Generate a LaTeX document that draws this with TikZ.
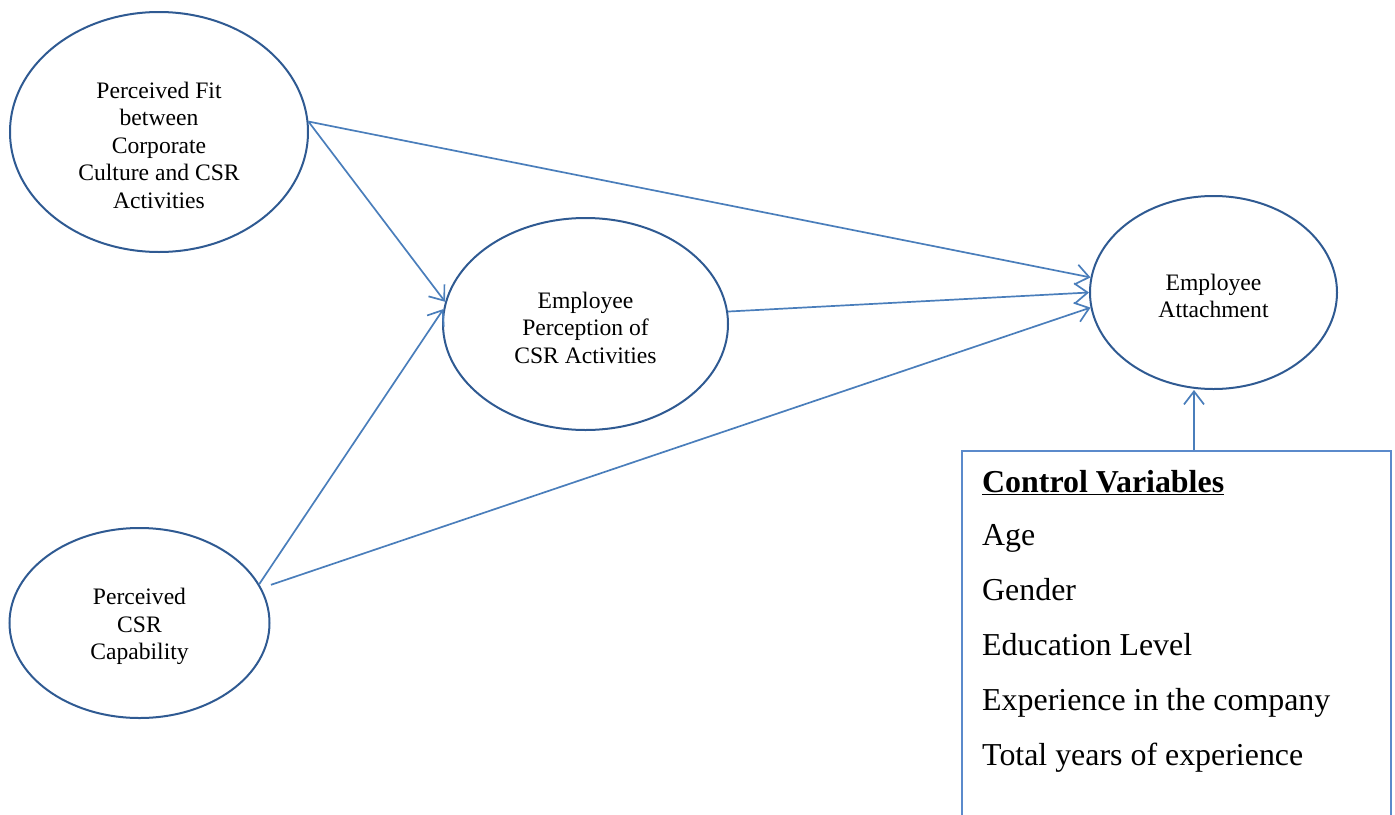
\documentclass[tikz,border=0pt]{standalone}
\usepackage{fontspec}
\setmainfont{Liberation Serif}
\usetikzlibrary{arrows.meta,shapes.geometric}
\definecolor{ellcol}{HTML}{2F5A92}
\definecolor{arrcol}{HTML}{4A7EBB}
\definecolor{boxcol}{HTML}{5B8ACB}
\begin{document}
\begin{tikzpicture}[x=1pt,y=-1pt,
  ell/.style={draw=ellcol,line width=2pt,ellipse,inner sep=0pt},
  etext/.style={align=center,font=\fontsize{23.6}{27.5}\selectfont,inner sep=0pt},
  arr/.style={draw=arrcol,line width=1.7pt,-{Straight Barb[length=13pt,width=20pt,line width=1.7pt]}},
  cvbox/.style={draw=boxcol,line width=2.2pt,rectangle,inner sep=0pt,anchor=north west,minimum width=429pt,minimum height=420pt},
  cvtext/.style={anchor=base west,inner sep=0pt,font=\fontsize{31.9}{37}\selectfont}]
\useasboundingbox (0,0) rectangle (1395,814);
\clip (0,0) rectangle (1395,814);
% ellipses
\node[ell,minimum width=298pt,minimum height=240pt] (fit) at (159,132) {};
\node[ell,minimum width=285pt,minimum height=212pt] (perc) at (585.5,324) {};
\node[ell,minimum width=247pt,minimum height=193pt] (att) at (1213.5,292.5) {};
\node[ell,minimum width=260pt,minimum height=190pt] (cap) at (139.5,623) {};
% texts
\node[etext] (fitlbl) at (159,145) {Perceived Fit\\between\\Corporate\\Culture and CSR\\Activities};
\node[etext] (perclbl) at (585.5,327.5) {Employee\\Perception of\\CSR Activities};
\node[etext] (attlbl) at (1213.5,296) {Employee\\Attachment};
\node[etext] (caplbl) at (139.5,626.5) {Perceived\\CSR\\Capability};
% control box
\node[cvbox] (cv) at (961,450) {};
\node[cvtext] (cv0) at (982,492) {\underline{\textbf{Control Variables}}};
\node[cvtext] (cv1) at (982,545) {Age};
\node[cvtext] (cv2) at (982,600) {Gender};
\node[cvtext] (cv3) at (982,655) {Education Level};
\node[cvtext] (cv4) at (982,710) {Experience in the company};
\node[cvtext] (cv5) at (982,765) {Total years of experience};
\coordinate (cvtop) at (1194,450);
% connectors
\draw[arr] (fit.4) -- (att.173);
\draw[arr] (fit.4) -- (perc.171.5);
\draw[arr] (cap.18) -- (perc.174);
\draw[arr,shorten <=10pt] (cap.16) -- (att.187);
\draw[arr] (perc.5.5) -- (att.180);
\draw[arr] (cvtop) -- (cvtop |- att.south);
\end{tikzpicture}
\end{document}
